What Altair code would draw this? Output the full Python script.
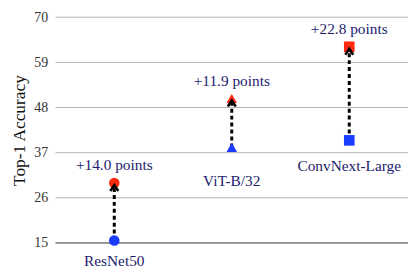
import altair as alt
import pandas as pd

models = ["ResNet50", "ViT-B/32", "ConvNext-Large"]
before = [15.6, 38.3, 40.0]
after = [29.6, 50.2, 62.8]
gains = ["+14.0 points", "+11.9 points", "+22.8 points"]
shapes = ["circle", "triangle-up", "square"]
y_ticks = [15, 26, 37, 48, 59, 70]

df = pd.DataFrame({"model": models, "before": before, "after": after, "gain": gains})

SERIF = "Liberation Serif"
NAVY = "#1c1c6e"

xenc = alt.X("model:N", sort=models, axis=None,
             scale=alt.Scale(type="point", padding=0.5, domain=models))
yscale = alt.Scale(domain=[15, 70], nice=False, zero=False)
shape_enc = alt.Shape("model:N", scale=alt.Scale(domain=models, range=shapes), legend=None)

base = alt.Chart(df)

grid = alt.Chart(pd.DataFrame({"v": y_ticks})).mark_rule(color="#b4b4b4", strokeWidth=1).encode(
    y=alt.Y("v:Q", scale=yscale,
            axis=alt.Axis(values=y_ticks, title="Top-1 Accuracy", grid=False, domain=False,
                          ticks=False, labelPadding=8, titlePadding=5))
)
baseline = alt.Chart(pd.DataFrame({"v": [15]})).mark_rule(color="#555", strokeWidth=1).encode(
    y=alt.Y("v:Q", scale=yscale)
)

rule = base.mark_rule(color="black", strokeWidth=3, strokeDash=[4, 3]).encode(
    x=xenc, y=alt.Y("before:Q", scale=yscale), y2="after:Q"
)

blue = base.mark_point(filled=True, opacity=1, color="#1a3cff", size=115).encode(
    x=xenc, y=alt.Y("before:Q", scale=yscale), shape=shape_enc
)
red = base.mark_point(filled=True, opacity=1, color="#ff2a12", size=115).encode(
    x=xenc, y=alt.Y("after:Q", scale=yscale), shape=shape_enc
)

arrow = base.mark_point(shape="M-0.8,1.6L0,0.4L0.8,1.6", filled=False, color="black",
                        strokeWidth=2.6, size=100, opacity=1).encode(
    x=xenc, y=alt.Y("after:Q", scale=yscale)
)

gain_text = base.mark_text(font=SERIF, fontSize=15.5, color=NAVY, dy=-18).encode(
    x=xenc, y=alt.Y("after:Q", scale=yscale), text="gain:N"
)

label_dy = {"ResNet50": 21, "ViT-B/32": 34, "ConvNext-Large": 26}
labels = [
    base.transform_filter(alt.datum.model == m).mark_text(
        font=SERIF, fontSize=15.5, color=NAVY, dy=label_dy[m]
    ).encode(x=xenc, y=alt.Y("before:Q", scale=yscale), text="model:N")
    for m in models
]

chart = alt.layer(grid, baseline, rule, blue, red, arrow, gain_text, *labels).properties(
    width=356, height=228, autosize="none",
    padding={"left": 48, "top": 8, "right": 0, "bottom": 28}
).configure_view(stroke=None).configure_axis(
    labelFont=SERIF, labelFontSize=14, labelColor="#333",
    titleFont=SERIF, titleFontSize=17.5, titleFontWeight="normal", titleColor="#111"
).configure_text(font=SERIF)

chart.save("out.html", embed_options={"renderer": "svg", "actions": False})
